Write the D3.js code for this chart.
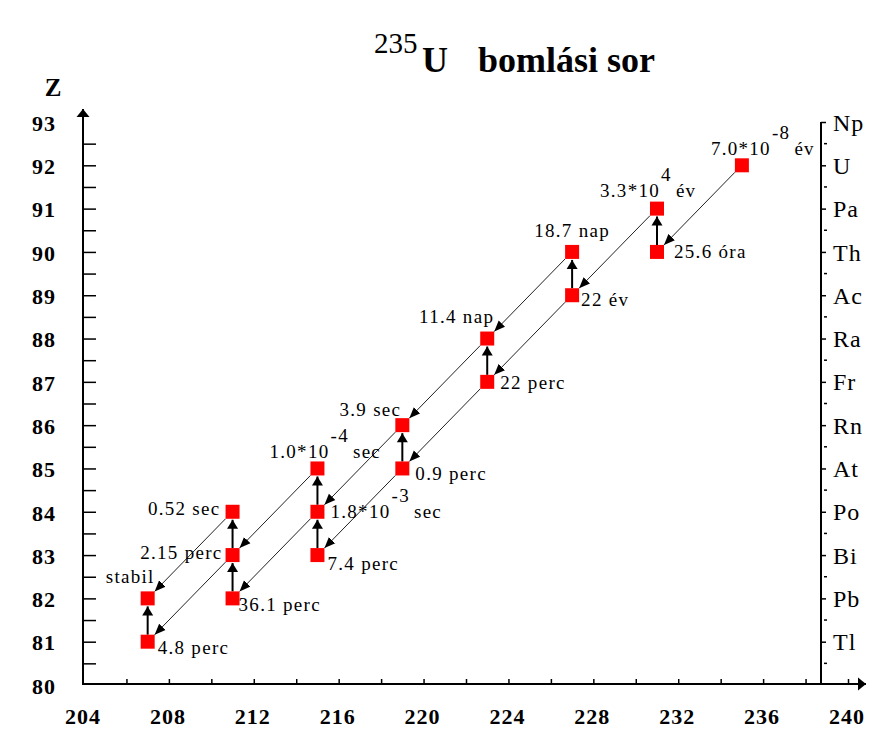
<!doctype html>
<html>
<head>
  <meta charset="utf-8">
  <title>235U bomlási sor</title>
  <style type="text/css">
    body{ margin:0; background:#fff; }
    .tick-lbl{ font-size:22px; font-weight:bold; letter-spacing:1px; }
    .elem{ font-size:24px; letter-spacing:1px; }
    .hl{ font-size:19px; letter-spacing:1.3px; }
    .alpha{ stroke:#222; stroke-width:1; fill:none; }
    .beta{ stroke:#000; stroke-width:2; }
    .nuc{ fill:#ff0000; }
    .axis path.domain{ display:none; }
    .axis line{ stroke:#000; stroke-width:1.5; }
  </style>
</head>
<body>
<div id="vis"></div>
<script src="https://cdn.jsdelivr.net/npm/d3@7"></script>
<script type="text/javascript">

  var width = 882,
    height = 745,
    serif = 'Liberation Serif';

  // nuclides of the chain (mass number, atomic number, half-life text)
  var names = ['U-235','Th-231','Pa-231','Ac-227','Th-227','Fr-223','Ra-223','At-219','Rn-219',
               'Bi-215','Po-215','At-215','Pb-211','Bi-211','Po-211','Tl-207','Pb-207'];
  var massNumbers = [235, 231, 231, 227, 227, 223, 223, 219, 219, 215, 215, 215, 211, 211, 211, 207, 207];
  var atomicNumbers = [92, 90, 91, 89, 90, 87, 88, 85, 86, 83, 84, 85, 82, 83, 84, 81, 82];
  var halfMain = ['7.0*10','25.6 óra','3.3*10','22 év','18.7 nap','22 perc','11.4 nap','0.9 perc','3.9 sec',
                  '7.4 perc','1.8*10','1.0*10','36.1 perc','2.15 perc','0.52 sec','4.8 perc','stabil'];
  var halfExp = ['-8','','4','','','','','','','','-3','-4','','','','',''];
  var halfUnit = ['év','','év','','','','','','','','sec','sec','','','','',''];

  // which nuclides decay how
  var alphaDecay = ['U-235','Pa-231','Th-227','Ra-223','Rn-219','Ac-227','Fr-223','At-219','At-215','Po-215','Po-211','Bi-211'];
  var betaDecay = ['Th-231','Ac-227','Fr-223','At-219','Po-215','Bi-215','Bi-211','Pb-211','Tl-207'];

  // axes
  var xLabels = [204, 208, 212, 216, 220, 224, 228, 232, 236, 240];
  var zLabels = [80, 81, 82, 83, 84, 85, 86, 87, 88, 89, 90, 91, 92, 93];
  var elemZ = [81, 82, 83, 84, 85, 86, 87, 88, 89, 90, 91, 92, 93];
  var elemNames = ['Tl','Pb','Bi','Po','At','Rn','Fr','Ra','Ac','Th','Pa','U','Np'];

  // label placement: dx, dy from square centre, anchor
  var labelPlace = [
    [-31,-10,'start'], [17,6,'start'], [-57,-12,'start'], [9,11,'start'], [0,-15,'middle'],
    [13,7,'start'], [7,-16,'end'], [13,12,'start'], [-1,-9,'end'], [10,15,'start'],
    [13,6,'start'], [-48,-10,'start'], [6,13,'start'], [-10,4,'end'], [-12,3,'end'],
    [10,12,'start'], [7,-15,'end']
  ];

  var svg = d3.select("#vis").append("svg")
    .attr("width", width)
    .attr("height", height);

  var x = d3.scaleLinear().domain([204, 240]).range([84, 848]),
    y = d3.scaleLinear().domain([80, 93]).range([685, 122]);

  var axisX = 83, axisY = 684, rightX = 821, half = 7;

  var defs = svg.append('defs');
  defs.append('marker')
    .attr('id','headA')
    .attr('viewBox','-11 -5 12 10')
    .attr('refX',0).attr('refY',0)
    .attr('markerWidth',12).attr('markerHeight',10)
    .attr('markerUnits','userSpaceOnUse')
    .attr('orient','auto')
    .append('path').attr('d','M-11,-4.5L0,0L-11,4.5Z').attr('fill','#000');
  defs.append('marker')
    .attr('id','headB')
    .attr('viewBox','-10 -6 11 12')
    .attr('refX',0).attr('refY',0)
    .attr('markerWidth',11).attr('markerHeight',12)
    .attr('markerUnits','userSpaceOnUse')
    .attr('orient','auto')
    .append('path').attr('d','M-9,-5.5L0,0L-9,5.5Z').attr('fill','#000');
  defs.append('marker')
    .attr('id','headAxis')
    .attr('viewBox','-10 -7 11 14')
    .attr('refX',0).attr('refY',0)
    .attr('markerWidth',11).attr('markerHeight',14)
    .attr('markerUnits','userSpaceOnUse')
    .attr('orient','auto')
    .append('path').attr('d','M-8,-6.5L0,0L-8,6.5Z').attr('fill','#000');

  // title
  var title = svg.append('text').attr('y', 72).style('font-family', serif);
  title.append('tspan').attr('x', 374).attr('dy', -19).style('font-size','29px').text('235');
  title.append('tspan').attr('x', 422).attr('dy', 19)
    .style('font-size','36px').style('font-weight','bold').text('U');
  title.append('tspan').attr('x', 478)
    .style('font-size','36px').style('font-weight','bold').text('bomlási sor');

  svg.append('text')
    .attr('x', 53).attr('y', 96)
    .attr('text-anchor','middle')
    .style('font-family', serif)
    .style('font-size','25px').style('font-weight','bold')
    .text('Z');

  // left axis
  svg.append('line')
    .attr('x1', axisX).attr('y1', axisY).attr('x2', axisX).attr('y2', 109)
    .attr('stroke','#000').attr('stroke-width',2)
    .attr('marker-end','url(#headAxis)');
  svg.append('g')
    .attr('class','axis')
    .attr('transform','translate('+axisX+',0)')
    .call(d3.axisRight(y).tickValues(d3.range(80.5, 93, 0.5)).tickSize(13).tickFormat(''));
  svg.append('g').selectAll('text')
    .data(zLabels)
    .enter().append('text')
    .attr('class','tick-lbl')
    .style('font-family', serif)
    .attr('x', 56)
    .attr('y', function(d){ return y(d); })
    .attr('dy','0.4em')
    .attr('text-anchor','end')
    .text(function(d){ return d; });

  // bottom axis
  svg.append('line')
    .attr('x1', axisX - 1).attr('y1', axisY).attr('x2', 866).attr('y2', axisY)
    .attr('stroke','#000').attr('stroke-width',2)
    .attr('marker-end','url(#headAxis)');
  svg.append('g')
    .attr('class','axis')
    .attr('transform','translate(0,'+axisY+')')
    .call(d3.axisTop(x).tickValues(d3.range(206, 241, 2)).tickSize(5).tickFormat(''));
  svg.append('g').selectAll('text')
    .data(xLabels)
    .enter().append('text')
    .attr('class','tick-lbl')
    .style('font-family', serif)
    .attr('x', function(d){ return x(d) - 1; })
    .attr('y', 724)
    .attr('text-anchor','middle')
    .text(function(d){ return d; });

  // right element axis
  svg.append('line')
    .attr('x1', rightX).attr('y1', y(93)).attr('x2', rightX).attr('y2', axisY)
    .attr('stroke','#000').attr('stroke-width',2);
  svg.append('g')
    .attr('class','axis')
    .attr('transform','translate('+rightX+',0)')
    .call(d3.axisRight(y).tickValues(elemZ).tickSize(5).tickFormat(''));
  svg.append('g').selectAll('line')
    .data(d3.range(80.5, 93, 0.5).filter(function(d){ return d % 1 != 0; }))
    .enter().append('line')
    .attr('x1', rightX + 3).attr('x2', rightX + 6)
    .attr('y1', function(d){ return y(d); })
    .attr('y2', function(d){ return y(d); })
    .attr('stroke','#000').attr('stroke-width',1.5);
  svg.append('g').selectAll('text')
    .data(elemNames)
    .enter().append('text')
    .attr('class','elem')
    .style('font-family', serif)
    .attr('x', rightX + 12)
    .attr('y', function(d,i){ return y(elemZ[i]); })
    .attr('dy','0.36em')
    .text(function(d){ return d; });

  // nuclide table
  var nuclides = names.map(function(n,i){
    return {name:n, A:massNumbers[i], Z:atomicNumbers[i], main:halfMain[i], exp:halfExp[i], unit:halfUnit[i], place:labelPlace[i]};
  });
  function find(A, Z){
    return nuclides.filter(function(d){ return d.A == A && d.Z == Z; })[0];
  }
  function byName(n){
    return nuclides.filter(function(d){ return d.name == n; })[0];
  }

  var arrows = svg.append('g');

  // alpha: A-4, Z-2, from lower-left corner to upper-right corner of the daughter
  arrows.selectAll('.alpha')
    .data(alphaDecay.map(function(n){
      var p = byName(n);
      return {from:p, to:find(p.A - 4, p.Z - 2)};
    }))
    .enter().append('line')
    .attr('class','alpha')
    .attr('x1', function(d){ return x(d.from.A) - half; })
    .attr('y1', function(d){ return y(d.from.Z) + half; })
    .attr('x2', function(d){ return x(d.to.A) + half; })
    .attr('y2', function(d){ return y(d.to.Z) - half; })
    .attr('marker-end','url(#headA)');

  // beta-: same A, Z+1
  arrows.selectAll('.beta')
    .data(betaDecay.map(function(n){
      var p = byName(n);
      return {from:p, to:find(p.A, p.Z + 1)};
    }))
    .enter().append('line')
    .attr('class','beta')
    .attr('x1', function(d){ return x(d.from.A); })
    .attr('y1', function(d){ return y(d.from.Z) - half; })
    .attr('x2', function(d){ return x(d.to.A); })
    .attr('y2', function(d){ return y(d.to.Z) + half + 1; })
    .attr('marker-end','url(#headB)');

  svg.append('g').selectAll('rect')
    .data(nuclides)
    .enter().append('rect')
    .attr('class','nuc')
    .attr('x', function(d){ return x(d.A) - half; })
    .attr('y', function(d){ return y(d.Z) - half; })
    .attr('width', half * 2)
    .attr('height', half * 2);

  var labels = svg.append('g').selectAll('text')
    .data(nuclides)
    .enter().append('text')
    .attr('class','hl')
    .style('font-family', serif)
    .attr('x', function(d){ return x(d.A) + d.place[0]; })
    .attr('y', function(d){ return y(d.Z) + d.place[1]; })
    .attr('text-anchor', function(d){ return d.place[2]; });

  labels.append('tspan').text(function(d){ return d.main; });
  labels.filter(function(d){ return d.exp != ''; })
    .each(function(d){
      var t = d3.select(this);
      t.append('tspan').attr('dy', -16).attr('dx', 1).text(d.exp);
      t.append('tspan').attr('dy', 16).attr('dx', 4).text(d.unit);
    });

</script>
</body>
</html>
